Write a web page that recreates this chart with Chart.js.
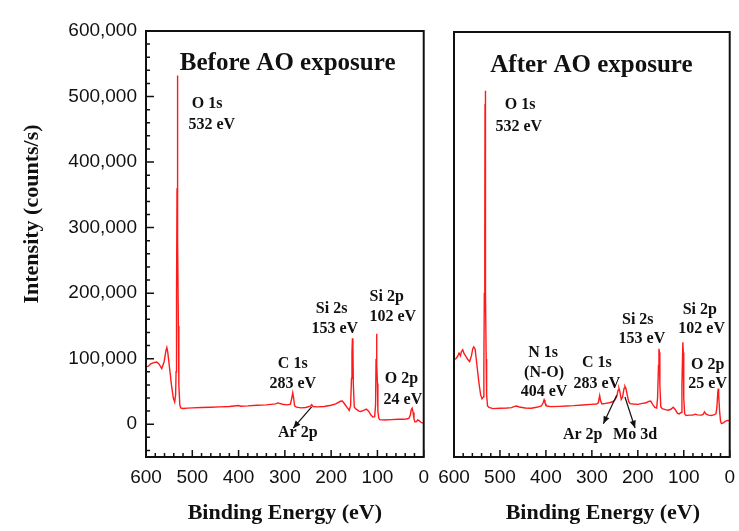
<!DOCTYPE html>
<html>
<head>
<meta charset="utf-8">
<script src="https://cdn.jsdelivr.net/npm/chart.js@4.4.1/dist/chart.umd.min.js"></script>
<style>
  html, body { margin: 0; padding: 0; background: #fff; overflow: hidden; }
  #wrap { position: relative; width: 739px; height: 531px; overflow: hidden; }
  #before, #after { position: absolute; top: 0; }
  #before { left: 0; }
  #after { left: 420px; }
</style>
</head>
<body>
<div id="wrap">
  <canvas id="before" width="438" height="531"></canvas>
  <canvas id="after" width="324" height="531"></canvas>
</div>
<script>
// XPS survey, before AO exposure (binding energy eV, counts/s)
const beforeEnergy = [600, 595, 590, 583, 577, 572, 566, 561, 557, 555, 553, 549, 545, 541, 538, 536, 535, 534, 533,
  532.5, 532, 531.5, 531, 530, 529, 527, 525, 520, 510, 500, 480, 460, 440, 420, 400, 395, 380, 360, 340, 320, 315,
  305, 295, 288, 285, 283, 281, 279, 275, 265, 255, 245, 242, 239, 230, 215, 200, 190, 180, 176, 172, 166, 161, 158,
  156, 155, 154, 153, 152, 150, 146, 140, 136, 130, 124, 119, 114, 110, 106, 104, 103, 102, 101, 100, 99, 97, 95, 85,
  70, 55, 45, 38, 32, 29, 27, 25, 23, 21, 19, 16, 13, 10, 6, 3, 0];
const beforeCounts = [87500, 88500, 92000, 94000, 95000, 92000, 85000, 95000, 112000, 117000, 110000, 85000, 60000,
  40000, 34000, 45000, 80000, 200000, 360000, 532000, 510000, 360000, 280000, 150000, 60000, 30000, 25000, 24000,
  24500, 25000, 25500, 26000, 26500, 27000, 28500, 27500, 28000, 29000, 29500, 31000, 32500, 30500, 29500, 30500,
  40000, 48000, 40000, 28000, 26000, 25000, 25500, 27500, 30000, 27000, 26500, 27000, 29000, 31000, 35000, 35500,
  32000, 26000, 21000, 28000, 70000, 110000, 131000, 120000, 60000, 26000, 23000, 20000, 19500, 21000, 23000, 20000,
  14000, 11000, 11500, 30000, 100000, 138000, 90000, 62000, 20000, 9000, 7000, 6500, 7000, 7500, 7500, 8000, 9000,
  14000, 22000, 24500, 18000, 8000, 3500, 4000, 6500, 5500, 3000, 2000, 1500];

// XPS survey, after AO exposure
const afterEnergy = [600, 596, 592, 589, 586, 584, 581, 578, 574, 570, 566, 562, 559, 557, 554, 550, 546, 542, 539,
  536, 535, 534, 533, 532.5, 532, 531.5, 531, 530, 529, 527, 524, 515, 500, 485, 475, 468, 464, 458, 445, 432, 420,
  410, 406, 404, 402, 398, 390, 370, 355, 340, 320, 302, 290, 286, 283, 281, 278, 270, 262, 255, 250, 246, 243, 241,
  239, 236, 233, 230, 228, 226, 223, 220, 217, 210, 200, 190, 182, 176, 172, 168, 163, 159, 157, 155, 154, 153, 152,
  150, 147, 140, 134, 128, 123, 119, 114, 110, 106, 104, 102, 101, 100, 98, 95, 88, 80, 75, 70, 62, 58, 55, 52, 46,
  40, 35, 30, 28, 26, 25, 24, 22, 20, 18, 14, 10, 5, 0];
const afterCounts = [99000, 100500, 104000, 109000, 105000, 111000, 114000, 108000, 104000, 99000, 96000, 105000,
  116000, 118500, 115000, 90000, 65000, 45000, 39000, 42000, 90000, 200000, 296000, 490000, 510000, 300000, 200000,
  100000, 45000, 28000, 26000, 24000, 24500, 25000, 25500, 27500, 28000, 26500, 25000, 24500, 26000, 28000, 33000,
  37500, 33000, 28000, 27000, 27500, 28000, 28500, 29500, 30500, 31000, 33000, 44000, 36000, 31000, 32000, 33000,
  34500, 37000, 42000, 52000, 55000, 50000, 38000, 42000, 55000, 58000, 55000, 45000, 35000, 31500, 31000, 30500,
  32000, 33000, 35000, 35500, 31000, 26000, 25000, 40000, 90000, 115500, 110000, 60000, 27000, 24000, 22500, 21500,
  23000, 26000, 23000, 17000, 16000, 18000, 60000, 125500, 110000, 40000, 16000, 13500, 14000, 14000, 15500, 14500,
  14000, 15000, 19000, 16000, 14000, 13500, 14500, 16000, 25000, 48000, 54500, 45000, 20000, 5000, 1000, 2000, 4500,
  6000, 5500];

// axis ranges and tick labels
const energyTicks = [600, 500, 400, 300, 200, 100, 0];
const intensityTicks = [0, 100000, 200000, 300000, 400000, 500000, 600000];

// peak labels: [text, energy, intensity]
const beforeLabels = [
  ['O 1s', 468, 488500], ['532 eV', 458, 456500],
  ['C 1s', 283, 91600], ['283 eV', 283, 61000],
  ['Si 2s', 199, 175600], ['153 eV', 192, 145000],
  ['Si 2p', 80, 193900], ['102 eV', 67, 163400],
  ['O 2p', 48, 68700], ['24 eV', 45, 36600],
  ['Ar 2p', 272, -13700]
];
const afterLabels = [
  ['O 1s', 456, 488500], ['532 eV', 459, 455000],
  ['N 1s', 406, 110000], ['(N-O)', 404, 78000], ['404 eV', 404, 49000],
  ['C 1s', 289, 94700], ['283 eV', 289, 62600],
  ['Si 2s', 200, 160000], ['153 eV', 191, 131000],
  ['Si 2p', 65, 175600], ['102 eV', 61, 146600],
  ['O 2p', 48, 91600], ['25 eV', 48, 62600],
  ['Ar 2p', 320, -16800], ['Mo 3d', 206, -16800]
];
// arrows: [fromEnergy, fromIntensity, toEnergy, toIntensity]
const beforeArrows = [[242, 26400, 282, -6100]];
const afterArrows = [[246, 44300, 275, 1000], [228, 41700, 206, -5600]];

const serif = '"Liberation Serif", "Times New Roman", serif';
const sans = '"Liberation Sans", Arial, sans-serif';

function toPoints(xs, ys) {
  return xs.map((e, i) => ({ x: e, y: ys[i] }));
}

// frame, inward ticks, labels and arrows
const framePlugin = {
  id: 'frame',
  afterDraw(chart, args, opts) {
    const { ctx, chartArea: a, scales: { x, y } } = chart;
    ctx.save();
    ctx.strokeStyle = '#111';
    ctx.fillStyle = '#111';
    ctx.lineWidth = 1.5;
    ctx.beginPath();
    for (let e = 0; e <= 600; e += 20) {
      const px = x.getPixelForValue(e);
      const len = e % 100 === 0 ? 7 : 4;
      ctx.moveTo(px, a.bottom);
      ctx.lineTo(px, a.bottom - len);
    }
    if (opts.yTicks) {
      for (let v = -40000; v <= 600000; v += 20000) {
        const py = y.getPixelForValue(v);
        const len = v % 100000 === 0 ? 8 : 4;
        ctx.moveTo(a.left, py);
        ctx.lineTo(a.left + len, py);
      }
    }
    ctx.stroke();
    ctx.lineWidth = 2;
    ctx.strokeRect(a.left, a.top, a.right - a.left, a.bottom - a.top);

    // panel heading
    ctx.textAlign = 'center';
    ctx.textBaseline = 'middle';
    ctx.font = 'bold 25px ' + serif;
    ctx.fillText(opts.heading, x.getPixelForValue(opts.headingAt[0]), y.getPixelForValue(opts.headingAt[1]));

    // peak labels
    ctx.font = 'bold 16px ' + serif;
    opts.labels.forEach(([t, e, v]) => {
      ctx.fillText(t, x.getPixelForValue(e), y.getPixelForValue(v));
    });

    // arrows
    ctx.lineWidth = 1.2;
    opts.arrows.forEach(([e1, v1, e2, v2]) => {
      const x1 = x.getPixelForValue(e1), y1 = y.getPixelForValue(v1);
      const x2 = x.getPixelForValue(e2), y2 = y.getPixelForValue(v2);
      const ang = Math.atan2(y2 - y1, x2 - x1);
      ctx.beginPath();
      ctx.moveTo(x1, y1);
      ctx.lineTo(x2, y2);
      ctx.stroke();
      ctx.beginPath();
      ctx.moveTo(x2, y2);
      ctx.lineTo(x2 - 8 * Math.cos(ang - 0.4), y2 - 8 * Math.sin(ang - 0.4));
      ctx.lineTo(x2 - 8 * Math.cos(ang + 0.4), y2 - 8 * Math.sin(ang + 0.4));
      ctx.closePath();
      ctx.fill();
    });

    // axis titles
    ctx.font = 'bold 22px ' + serif;
    ctx.fillText('Binding Energy (eV)', (a.left + a.right) / 2 + opts.xTitleShift, 513);
    if (opts.yTicks) {
      ctx.translate(32, 214);
      ctx.rotate(-Math.PI / 2);
      ctx.fillText('Intensity (counts/s)', 0, 0);
    }
    ctx.restore();
  }
};

function makeChart(id, energy, counts, showY, padding, frameOpts) {
  return new Chart(document.getElementById(id), {
    type: 'line',
    data: {
      datasets: [{
        data: toPoints(energy, counts),
        borderColor: '#ff1a1a',
        borderWidth: 1.4,
        pointRadius: 0,
        tension: 0,
        fill: false
      }]
    },
    options: {
      responsive: false,
      animation: false,
      layout: { padding: padding },
      plugins: {
        legend: { display: false },
        tooltip: { enabled: false },
        frame: frameOpts
      },
      scales: {
        x: {
          type: 'linear',
          reverse: true,
          min: 0,
          max: 600,
          grid: { display: false, drawTicks: false },
          border: { display: false },
          afterBuildTicks: s => { s.ticks = energyTicks.map(v => ({ value: v })); },
          afterFit: s => { s.height = 74; },
          ticks: { padding: 9, color: '#111', font: { family: sans, size: 19 }, maxRotation: 0 }
        },
        y: {
          type: 'linear',
          display: showY,
          min: -50000,
          max: 600000,
          grid: { display: false, drawTicks: false },
          border: { display: false },
          afterBuildTicks: s => { s.ticks = intensityTicks.map(v => ({ value: v })); },
          afterFit: s => { s.width = showY ? 146 : 0; },
          ticks: {
            padding: 9, color: '#111', font: { family: sans, size: 19 },
            callback: v => v.toLocaleString('en-US')
          }
        }
      }
    },
    plugins: [framePlugin]
  });
}

makeChart('before', beforeEnergy, beforeCounts, true,
  { left: 0, right: 0, top: 31, bottom: 0 },
  { yTicks: true, heading: 'Before AO exposure', headingAt: [294, 551000],
    labels: beforeLabels, arrows: beforeArrows, xTitleShift: 0 });

makeChart('after', afterEnergy, afterCounts, false,
  { left: 34, right: 0, top: 32, bottom: 0 },
  { yTicks: false, heading: 'After AO exposure', headingAt: [301, 548000],
    labels: afterLabels, arrows: afterArrows, xTitleShift: 11 });
</script>
</body>
</html>
